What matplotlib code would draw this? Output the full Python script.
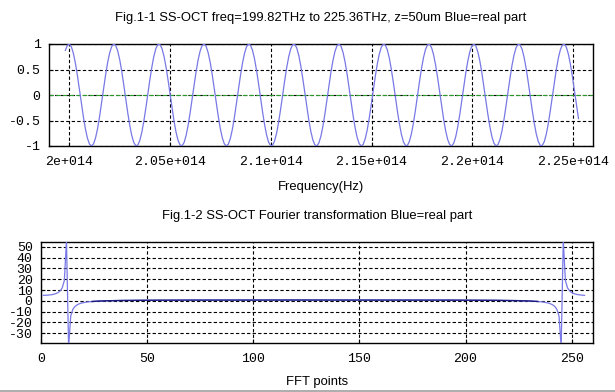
import numpy as np
import matplotlib
matplotlib.use("Agg")
import matplotlib.pyplot as plt
from matplotlib.lines import Line2D

plt.rcParams['axes.unicode_minus'] = False

# sweep from the title: 256 samples, 199.82THz to 225.36THz
f_start = 199.82e12
f_stop = 225.36e12
n_samples = 256
# a crest sits on 2e+014, crests are 2.23THz apart
crest_freq = 2.000e14
fringe_period = 2.2302e12

freq_ticks = [2.00e14, 2.05e14, 2.10e14, 2.15e14, 2.20e14, 2.25e14]
freq_tick_labels = ["2e+014", "2.05e+014", "2.1e+014", "2.15e+014", "2.2e+014", "2.25e+014"]
top_yticks = [-1, -0.5, 0, 0.5, 1]
top_ytick_labels = ["-1", "-0.5", "0", "0.5", "1"]
fft_xticks = [0, 50, 100, 150, 200, 250]
fft_yticks = [-30, -20, -10, 0, 10, 20, 30, 40, 50]

freq = f_start + np.arange(n_samples) * (f_stop - f_start) / n_samples
signal = np.cos(2 * np.pi * (freq - crest_freq) / fringe_period)
spectrum = np.fft.fft(signal).real
fft_index = np.arange(1, n_samples + 1)

W, H = 615, 392
fig = plt.figure(figsize=(W / 100, H / 100), dpi=100)

def box(l, t, r, b):
    return [l / W, 1 - b / H, (r - l) / W, (b - t) / H]

tick_font = dict(family="Liberation Mono", size=9.5)
text_font = dict(family="Liberation Sans", size=9.4)
line_col = "#7878e6"

# Fig.1-1
ax1 = fig.add_axes(box(49, 44, 593, 146))
ax1.plot(freq, signal, color=line_col, lw=0.9, zorder=3)
ax1.axhline(0, color="#2a9a2a", lw=0.8, ls=(0, (4, 2)), zorder=2)
ax1.set_xlim(1.9901e14, 2.2598e14)
ax1.set_ylim(-1, 1)
ax1.set_xticks(freq_ticks)
ax1.set_xticklabels(freq_tick_labels, **tick_font)
ax1.set_yticks(top_yticks)
ax1.set_yticklabels(top_ytick_labels, **tick_font)

# Fig.1-2
ax2 = fig.add_axes(box(41, 242, 593, 343))
ax2.plot(fft_index, spectrum, color=line_col, lw=0.9, zorder=3)
flat = np.where(np.abs(spectrum) < 0.8, spectrum, np.nan)
ax2.plot(fft_index, flat, color="#1a1a80", lw=1.0, zorder=4)
ax2.set_xlim(0, 260)
ax2.set_ylim(-39.2, 54.6)
ax2.set_xticks(fft_xticks)
ax2.set_xticklabels([str(v) for v in fft_xticks], **tick_font)
ax2.set_yticks(fft_yticks)
ax2.set_yticklabels([str(v) for v in fft_yticks], **tick_font)

for ax in (ax1, ax2):
    ax.grid(True, color="black", ls=(0, (3, 2)), lw=0.8)
    ax.set_axisbelow(True)
    for s in ax.spines.values():
        s.set_linewidth(1.0)
    ax.tick_params(direction="in", length=3, width=0.8)
    ax.tick_params(axis="x", pad=7)
    ax.tick_params(axis="y", pad=6)

fig.text(321 / W, 1 - 18 / H, "Fig.1-1 SS-OCT freq=199.82THz to 225.36THz, z=50um Blue=real part",
         ha="center", va="center", **text_font)
fig.text(321 / W, 1 - 187 / H, "Frequency(Hz)", ha="center", va="center", **text_font)
fig.text(317 / W, 1 - 216 / H, "Fig.1-2 SS-OCT Fourier transformation Blue=real part",
         ha="center", va="center", **text_font)
fig.text(317 / W, 1 - 382 / H, "FFT points", ha="center", va="center", **text_font)

fig.add_artist(Line2D([0, 1], [0.6 / H, 0.6 / H], color="#a0a0a0", lw=1.2))

plt.savefig("out.png", dpi=100)
plt.close()
